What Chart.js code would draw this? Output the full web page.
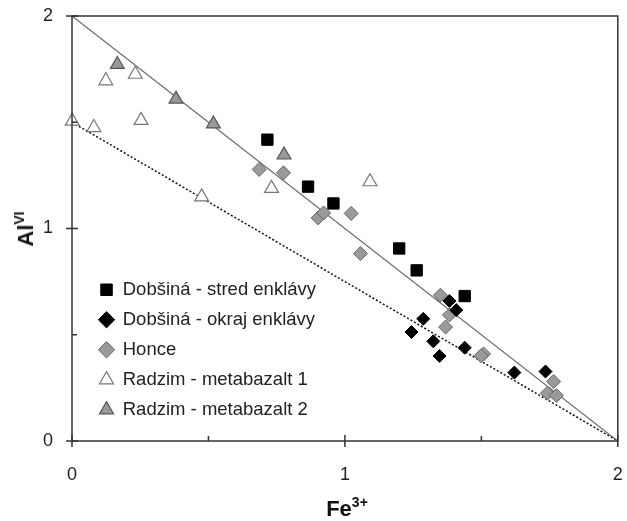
<!DOCTYPE html>
<html>
<head>
<meta charset="utf-8">
<script src="https://cdn.jsdelivr.net/npm/chart.js@4/dist/chart.umd.min.js"></script>
<style>
  body { margin: 0; background: #fff; }
  #wrap { position: relative; width: 627px; height: 521px; }
  .ttl { position: absolute; font-family: "Liberation Sans", Arial, sans-serif; font-weight: bold; font-size: 22px; color: #111; white-space: nowrap; line-height: 1; }
  .ttl sup { font-size: 14px; position: relative; top: -3px; vertical-align: top; }
  #xt { left: 347px; top: 498px; transform: translateX(-50%); }
  #yt { left: 26px; top: 229px; transform: translate(-50%, -50%) rotate(-90deg); }
</style>
</head>
<body>
<div id="wrap">
  <canvas id="chart" width="627" height="521"></canvas>
  <div class="ttl" id="xt">Fe<sup>3+</sup></div>
  <div class="ttl" id="yt">Al<sup>VI</sup></div>
</div>
<script>
// data
let stred_x = [0.716, 0.865, 0.958, 1.199, 1.263, 1.439];
let stred_y = [1.418, 1.197, 1.118, 0.906, 0.803, 0.682];

let okraj_x = [1.383, 1.408, 1.287, 1.244, 1.324, 1.347, 1.439, 1.621, 1.735];
let okraj_y = [0.659, 0.616, 0.575, 0.513, 0.469, 0.400, 0.439, 0.322, 0.327];

let honce_x = [0.686, 0.775, 0.902, 0.922, 1.023, 1.057, 1.350, 1.383, 1.369, 1.508, 1.499, 1.765, 1.742, 1.775];
let honce_y = [1.278, 1.262, 1.050, 1.073, 1.071, 0.882, 0.686, 0.593, 0.536, 0.410, 0.401, 0.280, 0.225, 0.214];

let radz1_x = [0.001, 0.080, 0.124, 0.232, 0.253, 0.475, 0.731, 1.092];
let radz1_y = [1.505, 1.475, 1.695, 1.726, 1.509, 1.149, 1.189, 1.220];

let radz2_x = [0.166, 0.381, 0.518, 0.777];
let radz2_y = [1.772, 1.609, 1.492, 1.346];

// reference lines
let line1_x = [0, 2];
let line1_y = [2, 0];
let line2_x = [0, 2];
let line2_y = [1.5, 0];

let major_ticks = [0, 1, 2];
let minor_ticks = [0.5, 1.5];

function pts(xs, ys) {
    return xs.map((x, i) => ({ x: x, y: ys[i] }));
}

// frame + tick marks crossing the axes
const frame = {
    id: 'frame',
    afterDatasetsDraw(chart) {
        let ctx = chart.ctx;
        let a = chart.chartArea;
        let sx = chart.scales.x, sy = chart.scales.y;
        ctx.save();
        ctx.strokeStyle = '#333';
        ctx.lineWidth = 1.5;
        ctx.strokeRect(a.left, a.top, a.right - a.left, a.bottom - a.top);
        ctx.beginPath();
        for (let v of major_ticks) {
            let px = sx.getPixelForValue(v);
            ctx.moveTo(px, a.bottom - 6); ctx.lineTo(px, a.bottom + 6);
            let py = sy.getPixelForValue(v);
            ctx.moveTo(a.left - 6, py); ctx.lineTo(a.left + 6, py);
        }
        for (let v of minor_ticks) {
            let px = sx.getPixelForValue(v);
            ctx.moveTo(px, a.bottom - 5); ctx.lineTo(px, a.bottom);
            let py = sy.getPixelForValue(v);
            ctx.moveTo(a.left, py); ctx.lineTo(a.left + 5, py);
        }
        ctx.stroke();
        ctx.restore();
    }
};

// put the legend inside the plot, lower left
const legendPlace = {
    id: 'legendPlace',
    afterLayout(chart) {
        let l = chart.legend;
        l.left = 88;
        l.top = 269;
        l.bottom = chart.chartArea.bottom;
        l.right = l.left + 260;
    }
};

var ctx = document.getElementById('chart');
var chart = new Chart(ctx, {
    type: 'scatter',
    data: {
        datasets: [
            {
                label: 'Dobšiná - stred enklávy',
                data: pts(stred_x, stred_y),
                pointStyle: 'rect',
                pointRadius: 8,
                backgroundColor: '#000',
                borderColor: '#000',
                borderWidth: 1,
                clip: false
            },
            {
                label: 'Dobšiná - okraj enklávy',
                data: pts(okraj_x, okraj_y),
                pointStyle: 'rectRot',
                pointRadius: 6.5,
                backgroundColor: '#000',
                borderColor: '#000',
                borderWidth: 1,
                clip: false
            },
            {
                label: 'Honce',
                data: pts(honce_x, honce_y),
                pointStyle: 'rectRot',
                pointRadius: 7,
                backgroundColor: '#9a9a9a',
                borderColor: '#666',
                borderWidth: 1,
                clip: false
            },
            {
                label: 'Radzim - metabazalt 1',
                data: pts(radz1_x, radz1_y),
                pointStyle: 'triangle',
                pointRadius: 8,
                backgroundColor: '#fff',
                borderColor: '#777',
                borderWidth: 1.2,
                clip: false
            },
            {
                label: 'Radzim - metabazalt 2',
                data: pts(radz2_x, radz2_y),
                pointStyle: 'triangle',
                pointRadius: 8,
                backgroundColor: '#999',
                borderColor: '#555',
                borderWidth: 1.2,
                clip: false
            },
            {
                label: 'line1',
                data: pts(line1_x, line1_y),
                showLine: true,
                pointRadius: 0,
                borderColor: '#666',
                borderWidth: 1.2,
                fill: false
            },
            {
                label: 'line2',
                data: pts(line2_x, line2_y),
                showLine: true,
                pointRadius: 0,
                borderColor: '#111',
                borderWidth: 1.5,
                borderDash: [2, 2],
                fill: false
            }
        ]
    },
    options: {
        responsive: false,
        animation: false,
        layout: { padding: { top: 16, right: 6, left: 0, bottom: 0 } },
        scales: {
            x: {
                type: 'linear',
                min: 0, max: 2,
                afterFit: (s) => {
                    s.height = 80;
                    s.paddingLeft = 0;
                    s.paddingRight = 0;
                },
                grid: { display: false, drawTicks: false },
                border: { display: false },
                ticks: {
                    stepSize: 1,
                    padding: 23,
                    color: '#222',
                    font: { family: 'Liberation Sans', size: 18 }
                }
            },
            y: {
                type: 'linear',
                min: 0, max: 2,
                afterFit: (s) => {
                    s.width = 72;
                    s.paddingTop = 0;
                    s.paddingBottom = 0;
                },
                grid: { display: false, drawTicks: false },
                border: { display: false },
                ticks: {
                    stepSize: 1,
                    padding: 19,
                    color: '#222',
                    font: { family: 'Liberation Sans', size: 18 }
                }
            }
        },
        plugins: {
            tooltip: { enabled: false },
            legend: {
                position: 'chartArea',
                align: 'start',
                labels: {
                    usePointStyle: true,
                    boxWidth: 14,
                    boxHeight: 11.5,
                    padding: 11.5,
                    color: '#222',
                    font: { family: 'Liberation Sans', size: 18.5 },
                    filter: (item) => item.datasetIndex < 5
                }
            }
        }
    },
    plugins: [frame, legendPlace]
});
</script>
</body>
</html>
